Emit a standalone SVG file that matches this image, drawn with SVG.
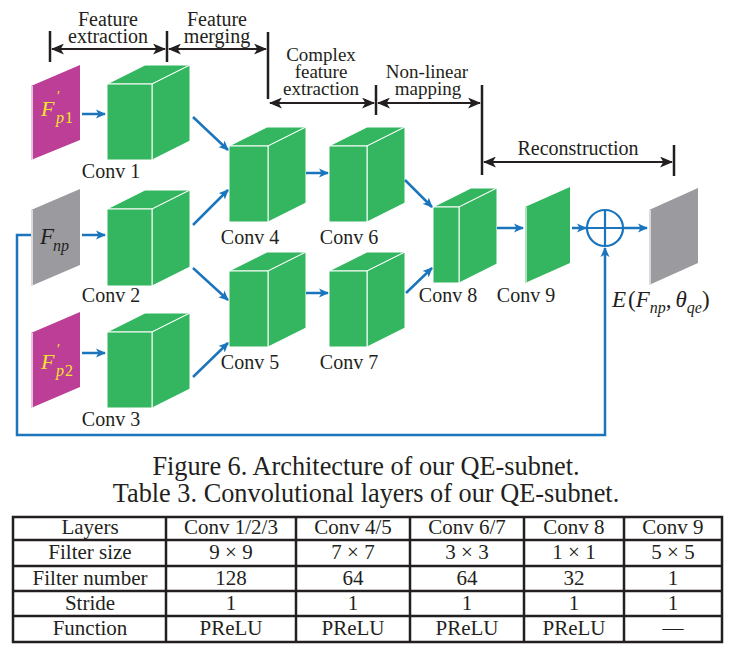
<svg xmlns="http://www.w3.org/2000/svg" width="735" height="655" viewBox="0 0 735 655">
<defs>
<marker id="ab" viewBox="0 0 10 10" refX="9" refY="5" markerWidth="10" markerHeight="10" markerUnits="userSpaceOnUse" orient="auto"><path d="M0,0.5 L10,5 L0,9.5 L2.5,5 Z" fill="#1b75bc"/></marker>
<marker id="ak" viewBox="0 0 12 10" refX="11" refY="5" markerWidth="13" markerHeight="11" markerUnits="userSpaceOnUse" orient="auto-start-reverse"><path d="M0,0 L12,5 L0,10 L3,5 Z" fill="#231f20"/></marker>
</defs>
<style>
.t{font-family:"Liberation Serif","Times New Roman",serif;fill:#231f20;}
.lb{font-size:20px;text-anchor:middle;}
.lb2{font-size:19px;text-anchor:middle;}
.cap{font-size:26.3px;text-anchor:middle;}
.tb{font-size:21px;text-anchor:middle;}
.m{font-family:"Liberation Serif","Times New Roman",serif;font-style:italic;}
.g{fill:#34b55f;stroke:#ffffff;stroke-width:1;stroke-linejoin:round;}
.mag{fill:#bc3e96;}
.gr{fill:#9b9b9f;}
.edge{stroke:#efe6ee;stroke-width:1.6;}
.ar{stroke:#1b75bc;stroke-width:2.5;fill:none;marker-end:url(#ab);}
.bk{stroke:#231f20;stroke-width:2.5;fill:none;}
.bka{stroke:#231f20;stroke-width:2.2;fill:none;marker-start:url(#ak);marker-end:url(#ak);}
.tl{stroke:#231f20;stroke-width:2.5;fill:none;}
</style>

<!-- stage brackets -->
<g id="brackets">
<line class="bk" x1="50" y1="31" x2="50" y2="62"/>
<line class="bk" x1="167" y1="31" x2="167" y2="62"/>
<line class="bk" x1="268" y1="32" x2="268" y2="99"/>
<line class="bk" x1="376" y1="85" x2="376" y2="115"/>
<line class="bk" x1="482" y1="85" x2="482" y2="175"/>
<line class="bk" x1="674" y1="145" x2="674" y2="176"/>
<line class="bka" x1="52" y1="49" x2="165" y2="49"/>
<line class="bka" x1="169" y1="49" x2="266" y2="49"/>
<line class="bka" x1="270" y1="103" x2="374" y2="103"/>
<line class="bka" x1="378" y1="103" x2="480" y2="103"/>
<line class="bka" x1="484" y1="162" x2="672" y2="162"/>
<text class="t lb" x="108" y="26">Feature</text>
<text class="t lb" x="108" y="43">extraction</text>
<text class="t lb" x="217" y="26">Feature</text>
<text class="t lb" x="217" y="43">merging</text>
<text class="t lb2" x="321" y="61">Complex</text>
<text class="t lb2" x="321" y="78">feature</text>
<text class="t lb2" x="321" y="95">extraction</text>
<text class="t lb2" x="427" y="78">Non-linear</text>
<text class="t lb2" x="428" y="95">mapping</text>
<text class="t lb" x="578" y="155">Reconstruction</text>
</g>

<!-- inputs -->
<g id="fp1">
<polygon class="mag" points="31,86 80,65 80,140 31,160"/>
<line class="edge" x1="32" y1="86" x2="32" y2="160"/>
<text class="m" fill="#f5e52c" font-size="22" x="41" y="116">F</text>
<text class="m" fill="#f5e52c" font-size="15" x="56" y="101">′</text>
<text class="m" fill="#f5e52c" font-size="16" x="56" y="123">p</text>
<text fill="#f5e52c" font-family="Liberation Serif, serif" font-size="16" x="65" y="123">1</text>
</g>
<g id="fnp">
<polygon class="gr" points="31,210 80,189 80,265 31,286"/>
<line class="edge" x1="32" y1="210" x2="32" y2="286"/>
<text class="m" fill="#231f20" font-size="23" x="40" y="244">F</text>
<text class="m" fill="#231f20" font-size="16" x="53" y="251">np</text>
</g>
<g id="fp2">
<polygon class="mag" points="31,333 80,312 80,387 31,408"/>
<line class="edge" x1="32" y1="333" x2="32" y2="408"/>
<text class="m" fill="#f5e52c" font-size="22" x="41" y="369">F</text>
<text class="m" fill="#f5e52c" font-size="15" x="56" y="354">′</text>
<text class="m" fill="#f5e52c" font-size="16" x="56" y="376">p</text>
<text fill="#f5e52c" font-family="Liberation Serif, serif" font-size="16" x="65" y="376">2</text>
</g>

<!-- conv cubes -->
<g id="conv1">
<polygon class="g" points="107,84 145,65 190,65 152,84"/>
<polygon class="g" points="152,84 190,65 190,141 152,160"/>
<rect class="g" x="107" y="84" width="45" height="76"/>
<text class="t lb" x="111" y="178">Conv 1</text>
</g>
<g id="conv2">
<polygon class="g" points="107,209 145,190 190,190 152,209"/>
<polygon class="g" points="152,209 190,190 190,267 152,286"/>
<rect class="g" x="107" y="209" width="45" height="77"/>
<text class="t lb" x="111" y="302">Conv 2</text>
</g>
<g id="conv3">
<polygon class="g" points="107,332 145,313 190,313 152,332"/>
<polygon class="g" points="152,332 190,313 190,389 152,408"/>
<rect class="g" x="107" y="332" width="45" height="76"/>
<text class="t lb" x="111" y="426">Conv 3</text>
</g>
<g id="conv4">
<polygon class="g" points="229,146 267,127 306,127 268,146"/>
<polygon class="g" points="268,146 306,127 306,203 268,222"/>
<rect class="g" x="229" y="146" width="39" height="76"/>
<text class="t lb" x="250" y="244">Conv 4</text>
</g>
<g id="conv5">
<polygon class="g" points="229,271 267,252 306,252 268,271"/>
<polygon class="g" points="268,271 306,252 306,328 268,347"/>
<rect class="g" x="229" y="271" width="39" height="76"/>
<text class="t lb" x="250" y="369">Conv 5</text>
</g>
<g id="conv6">
<polygon class="g" points="329,146 367,127 405,127 367,146"/>
<polygon class="g" points="367,146 405,127 405,203 367,222"/>
<rect class="g" x="329" y="146" width="38" height="76"/>
<text class="t lb" x="349" y="244">Conv 6</text>
</g>
<g id="conv7">
<polygon class="g" points="329,271 367,252 405,252 367,271"/>
<polygon class="g" points="367,271 405,252 405,328 367,347"/>
<rect class="g" x="329" y="271" width="38" height="76"/>
<text class="t lb" x="349" y="369">Conv 7</text>
</g>
<g id="conv8">
<polygon class="g" points="433,207 471,188 497,188 459,207"/>
<polygon class="g" points="459,207 497,188 497,264 459,283"/>
<rect class="g" x="433" y="207" width="26" height="76"/>
<text class="t lb" x="448" y="302">Conv 8</text>
</g>
<g id="conv9">
<polygon fill="#34b55f" points="525,207 570,187 570,263 525,283"/>
<line stroke="#d8f0df" stroke-width="1.5" x1="526" y1="207" x2="526" y2="283"/>
<text class="t lb" x="526" y="302">Conv 9</text>
</g>

<g id="sum">
<circle cx="605" cy="228" r="18" fill="#ffffff" stroke="#1b75bc" stroke-width="2.2"/>
<line x1="587" y1="228" x2="623" y2="228" stroke="#1b75bc" stroke-width="2.2"/>
<line x1="605" y1="210" x2="605" y2="246" stroke="#1b75bc" stroke-width="2.2"/>
</g>

<g id="output">
<polygon class="gr" points="649,210 698,188 698,263 649,285"/>
<line class="edge" x1="650" y1="210" x2="650" y2="285"/>
<text class="m" fill="#231f20" font-size="23" x="612" y="307">E<tspan font-style="normal" dx="2">(</tspan>F<tspan font-size="16" dy="6">np</tspan><tspan dy="-6" font-style="normal">,</tspan><tspan dx="4">θ</tspan><tspan font-size="16" dy="6">qe</tspan><tspan dy="-6" font-style="normal">)</tspan></text>
</g>

<!-- connectors -->
<g id="connectors">
<line class="ar" x1="82" y1="114" x2="105" y2="114"/>
<line class="ar" x1="82" y1="235" x2="105" y2="235"/>
<line class="ar" x1="82" y1="353" x2="105" y2="353"/>
<line class="ar" x1="193" y1="117" x2="228" y2="150"/>
<line class="ar" x1="193" y1="225" x2="228" y2="190"/>
<line class="ar" x1="193" y1="268" x2="228" y2="300"/>
<line class="ar" x1="193" y1="377" x2="228" y2="343"/>
<line class="ar" x1="306" y1="173" x2="328" y2="173"/>
<line class="ar" x1="306" y1="293" x2="328" y2="293"/>
<line class="ar" x1="405" y1="180" x2="432" y2="207"/>
<line class="ar" x1="406" y1="293" x2="432" y2="268"/>
<line class="ar" x1="497" y1="228" x2="523" y2="228"/>
<line class="ar" x1="572" y1="228" x2="586" y2="228"/>
<line class="ar" x1="623" y1="228" x2="647" y2="228"/>
<path class="ar" d="M31,235 H17 V435 H605 V248"/>
</g>

<!-- captions -->
<text class="t cap" x="366" y="475">Figure 6. Architecture of our QE-subnet.</text>
<text class="t cap" x="366" y="502">Table 3. Convolutional layers of our QE-subnet.</text>

<!-- table -->
<g id="table">
<rect class="tl" x="13" y="517" width="709" height="125"/>
<line class="tl" x1="13" y1="540" x2="722" y2="540"/>
<line class="tl" x1="13" y1="566" x2="722" y2="566"/>
<line class="tl" x1="13" y1="591" x2="722" y2="591"/>
<line class="tl" x1="13" y1="616" x2="722" y2="616"/>
<line class="tl" x1="166" y1="517" x2="166" y2="642"/>
<line class="tl" x1="296" y1="517" x2="296" y2="642"/>
<line class="tl" x1="410" y1="517" x2="410" y2="642"/>
<line class="tl" x1="524" y1="517" x2="524" y2="642"/>
<line class="tl" x1="624" y1="517" x2="624" y2="642"/>
<text class="t tb" x="90" y="534">Layers</text>
<text class="t tb" x="231" y="534">Conv 1/2/3</text>
<text class="t tb" x="353" y="534">Conv 4/5</text>
<text class="t tb" x="467" y="534">Conv 6/7</text>
<text class="t tb" x="574" y="534">Conv 8</text>
<text class="t tb" x="673" y="534">Conv 9</text>
<text class="t tb" x="90" y="559">Filter size</text>
<text class="t tb" x="231" y="559">9 × 9</text>
<text class="t tb" x="353" y="559">7 × 7</text>
<text class="t tb" x="467" y="559">3 × 3</text>
<text class="t tb" x="574" y="559">1 × 1</text>
<text class="t tb" x="673" y="559">5 × 5</text>
<text class="t tb" x="90" y="585">Filter number</text>
<text class="t tb" x="231" y="585">128</text>
<text class="t tb" x="353" y="585">64</text>
<text class="t tb" x="467" y="585">64</text>
<text class="t tb" x="574" y="585">32</text>
<text class="t tb" x="673" y="585">1</text>
<text class="t tb" x="90" y="610">Stride</text>
<text class="t tb" x="231" y="610">1</text>
<text class="t tb" x="353" y="610">1</text>
<text class="t tb" x="467" y="610">1</text>
<text class="t tb" x="574" y="610">1</text>
<text class="t tb" x="673" y="610">1</text>
<text class="t tb" x="90" y="635">Function</text>
<text class="t tb" x="231" y="635">PReLU</text>
<text class="t tb" x="353" y="635">PReLU</text>
<text class="t tb" x="467" y="635">PReLU</text>
<text class="t tb" x="574" y="635">PReLU</text>
<text class="t tb" x="673" y="635">—</text>
</g>
</svg>
